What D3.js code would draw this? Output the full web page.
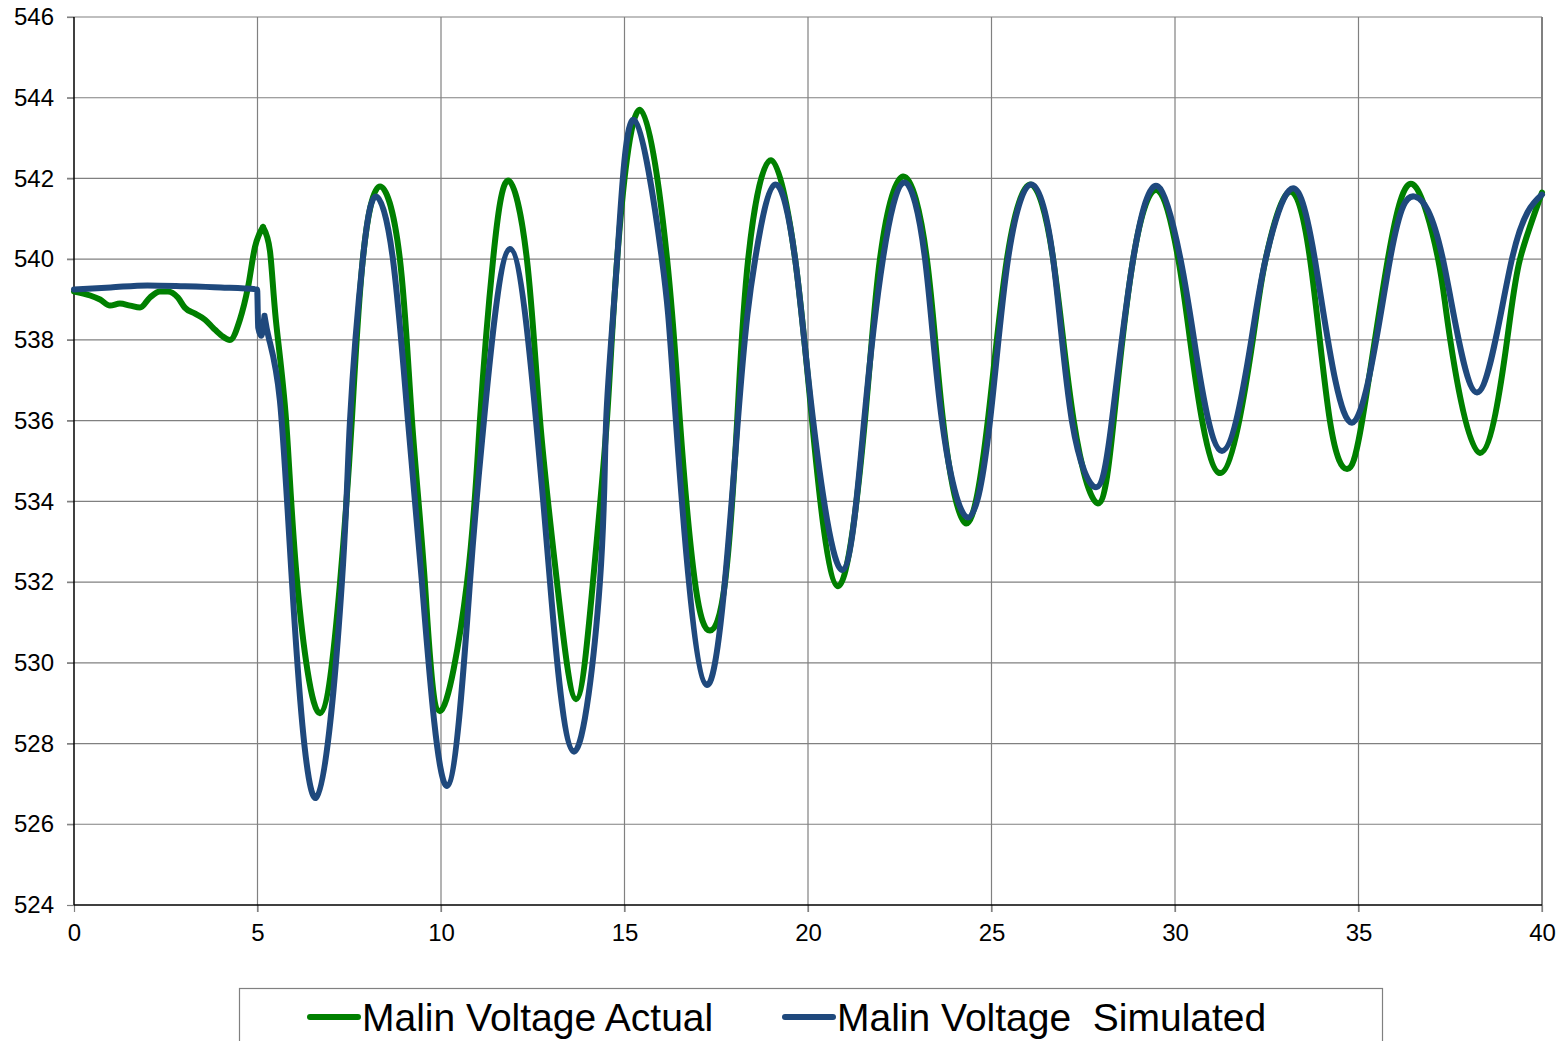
<!DOCTYPE html>
<html>
<head>
<meta charset="utf-8">
<script src="https://cdn.jsdelivr.net/npm/d3@7"></script>
<style>
  body { margin: 0; background: #fff; }
  text { font-family: "Liberation Sans", Arial, sans-serif; }
</style>
</head>
<body>
<div id="chart"></div>
<script>
const w = 1564;
const h = 1041;
const m = {left: 74, top: 17, right: 22, bottom: 136};

// time (s) and voltage (kV)
const actualT = [0, 0.44, 0.71, 0.98, 1.25, 1.53, 1.80, 2.07, 2.34, 2.56, 2.83, 3.02, 3.30, 3.57, 3.79, 4.03, 4.25, 4.52, 4.74, 4.93, 5.15, 5.34, 5.50,
  5.78, 6.08, 6.70, 7.25, 7.57, 7.87, 8.34, 8.88, 9.21, 9.56, 9.97, 10.71, 11.06, 11.42, 11.83, 12.34, 12.70, 13.16, 13.68,
  14.14, 14.52, 14.80, 15.42, 16.16, 16.51, 16.92, 17.33, 17.74, 18.07, 18.37, 18.99, 19.65, 20.11, 20.82, 21.55, 21.96, 22.59,
  23.24, 23.68, 24.31, 24.90, 25.42, 26.05, 26.68, 27.24, 27.90, 28.33, 28.86, 29.54, 30.09, 30.41, 31.23, 32.12, 32.47, 33.08,
  33.68, 34.22, 34.69, 35.10, 35.80, 36.49, 37.17, 37.50, 38.31, 39.05, 39.40, 40];
const actualV = [539.2, 539.1, 539.0, 538.85, 538.9, 538.85, 538.8, 539.05, 539.2, 539.2, 539.05, 538.8, 538.65, 538.5, 538.3, 538.1, 538.0, 538.5, 539.3, 540.3, 540.8, 540.2, 538.5,
  536, 532, 528.75, 532, 536, 540, 541.8, 540, 536, 532, 528.8, 532, 536, 540, 541.95, 540, 536, 532, 529.1,
  532, 536, 540, 543.7, 540, 536, 532, 530.8, 532, 536, 540, 542.45, 540, 536, 531.9, 536, 540, 542.05,
  540, 536, 533.45, 536, 540, 541.85, 540, 536, 533.95, 536, 540, 541.7, 540, 538, 534.7, 538, 540, 541.65,
  540, 536, 534.8, 536, 540, 541.85, 540, 538, 535.2, 538, 540, 541.65];

const simT = [0, 1.0, 2.0, 3.0, 4.0, 4.99, 5.02, 5.10, 5.19, 5.32, 5.61,
  5.94, 6.59, 7.30, 7.52, 7.87, 8.23, 8.69, 9.10, 9.48, 10.16, 10.79, 11.17, 11.88, 12.59, 12.97, 13.62,
  14.33, 14.50, 14.80, 15.26, 16.02, 16.40, 17.25, 18.09, 18.56, 19.10, 19.65, 20.14, 20.93, 21.53, 22.04, 22.62,
  23.19, 23.65, 24.36, 24.96, 25.45, 26.08, 26.68, 27.19, 27.85, 28.28, 28.86, 29.54, 30.15, 30.52, 31.28, 32.08, 32.47, 33.11,
  33.81, 34.82, 35.86, 36.54, 37.30, 38.23, 39.18, 40];
const simV = [539.25, 539.3, 539.35, 539.33, 539.3, 539.25, 538.3, 538.1, 538.6, 538.0, 536.5,
  532, 526.65, 532, 536, 540, 541.55, 540, 536, 532, 526.95, 532, 536, 540.25, 536, 532, 527.8,
  532, 536, 540, 543.45, 540, 536, 529.45, 536, 540, 541.85, 540, 536, 532.3, 536, 540, 541.9,
  540, 536, 533.6, 536, 540, 541.85, 540, 536, 534.35, 536, 540, 541.8, 540, 538, 535.25, 538, 540, 541.7,
  540, 535.95, 540, 541.55, 540, 536.7, 540, 541.6];

// index where the pre-disturbance part ends and the swing starts
const actualSplit = 20;
const simSplit = 8;

const xTicks = [0, 5, 10, 15, 20, 25, 30, 35, 40];
const yTicks = [524, 526, 528, 530, 532, 534, 536, 538, 540, 542, 544, 546];

const seriesNames = ["Malin Voltage Actual", "Malin Voltage  Simulated"];
const seriesColors = ["#008000", "#1f497d"];

const svg = d3.select("#chart").append("svg").attr("width", w).attr("height", h);

const x = d3.scaleLinear().domain([0, 40]).range([m.left, w - m.right]);
const y = d3.scaleLinear().domain([524, 546]).range([h - m.bottom, m.top]);

// grid
svg.append("g").selectAll("line").data(yTicks.slice(1))
  .enter().append("line")
  .attr("x1", m.left - 7).attr("x2", w - m.right)
  .attr("y1", (d) => y(d)).attr("y2", (d) => y(d))
  .attr("stroke", "#808080").attr("stroke-width", 1.2);
svg.append("g").selectAll("line").data(xTicks.slice(1))
  .enter().append("line")
  .attr("x1", (d) => x(d)).attr("x2", (d) => x(d))
  .attr("y1", m.top).attr("y2", h - m.bottom + 7)
  .attr("stroke", "#808080").attr("stroke-width", 1.2);
svg.append("line").attr("x1", w - m.right).attr("x2", w - m.right)
  .attr("y1", m.top).attr("y2", h - m.bottom)
  .attr("stroke", "#808080").attr("stroke-width", 2);

// axes
const yAxis = svg.append("g").attr("transform", "translate(" + m.left + ",0)")
  .call(d3.axisLeft(y).tickValues(yTicks).tickSize(7).tickPadding(13).tickFormat(d3.format("d")));
const xAxis = svg.append("g").attr("transform", "translate(0," + (h - m.bottom) + ")")
  .call(d3.axisBottom(x).tickValues(xTicks).tickSize(7).tickPadding(12).tickFormat(d3.format("d")));
[yAxis, xAxis].forEach((a) => {
  a.select(".domain").remove();
  a.selectAll(".tick line").attr("stroke", "#808080").attr("stroke-width", 1.2);
  a.selectAll(".tick text").attr("font-size", 24).attr("fill", "#000")
    .attr("font-family", "Liberation Sans, Arial, sans-serif");
});
svg.append("line").attr("x1", m.left).attr("x2", m.left).attr("y1", m.top).attr("y2", h - m.bottom)
  .attr("stroke", "#000").attr("stroke-width", 1.5);
svg.append("line").attr("x1", m.left).attr("x2", w - m.right).attr("y1", h - m.bottom).attr("y2", h - m.bottom)
  .attr("stroke", "#000").attr("stroke-width", 1.5);

// lines: monotone for the ragged start, natural spline for the swings
const lineStart = d3.line().x((d) => x(d[0])).y((d) => y(d[1])).curve(d3.curveMonotoneX);
const lineSwing = d3.line().x((d) => x(d[0])).y((d) => y(d[1])).curve(d3.curveNatural);
const actual = actualT.map((t, i) => [t, actualV[i]]);
const sim = simT.map((t, i) => [t, simV[i]]);
[[actual, actualSplit], [sim, simSplit]].forEach(([data, k], i) => {
  const d = lineStart(data.slice(0, k + 1)) + lineSwing(data.slice(k));
  svg.append("path")
    .attr("d", d)
    .attr("fill", "none")
    .attr("stroke", seriesColors[i])
    .attr("stroke-width", 6)
    .attr("stroke-linejoin", "round")
    .attr("stroke-linecap", "round");
});

// legend
const legend = svg.append("g");
legend.append("rect").attr("x", 239.5).attr("y", 988.5).attr("width", 1143).attr("height", 80)
  .attr("fill", "#fff").attr("stroke", "#808080").attr("stroke-width", 1.2);
const legX = [310, 785];
seriesNames.forEach((name, i) => {
  legend.append("line").attr("x1", legX[i]).attr("x2", legX[i] + 48)
    .attr("y1", 1017).attr("y2", 1017)
    .attr("stroke", seriesColors[i]).attr("stroke-width", 6).attr("stroke-linecap", "round");
  legend.append("text").attr("x", legX[i] + 52).attr("y", 1031)
    .attr("font-size", 39).attr("fill", "#000")
    .style("white-space", "pre")
    .text(name);
});
</script>
</body>
</html>
